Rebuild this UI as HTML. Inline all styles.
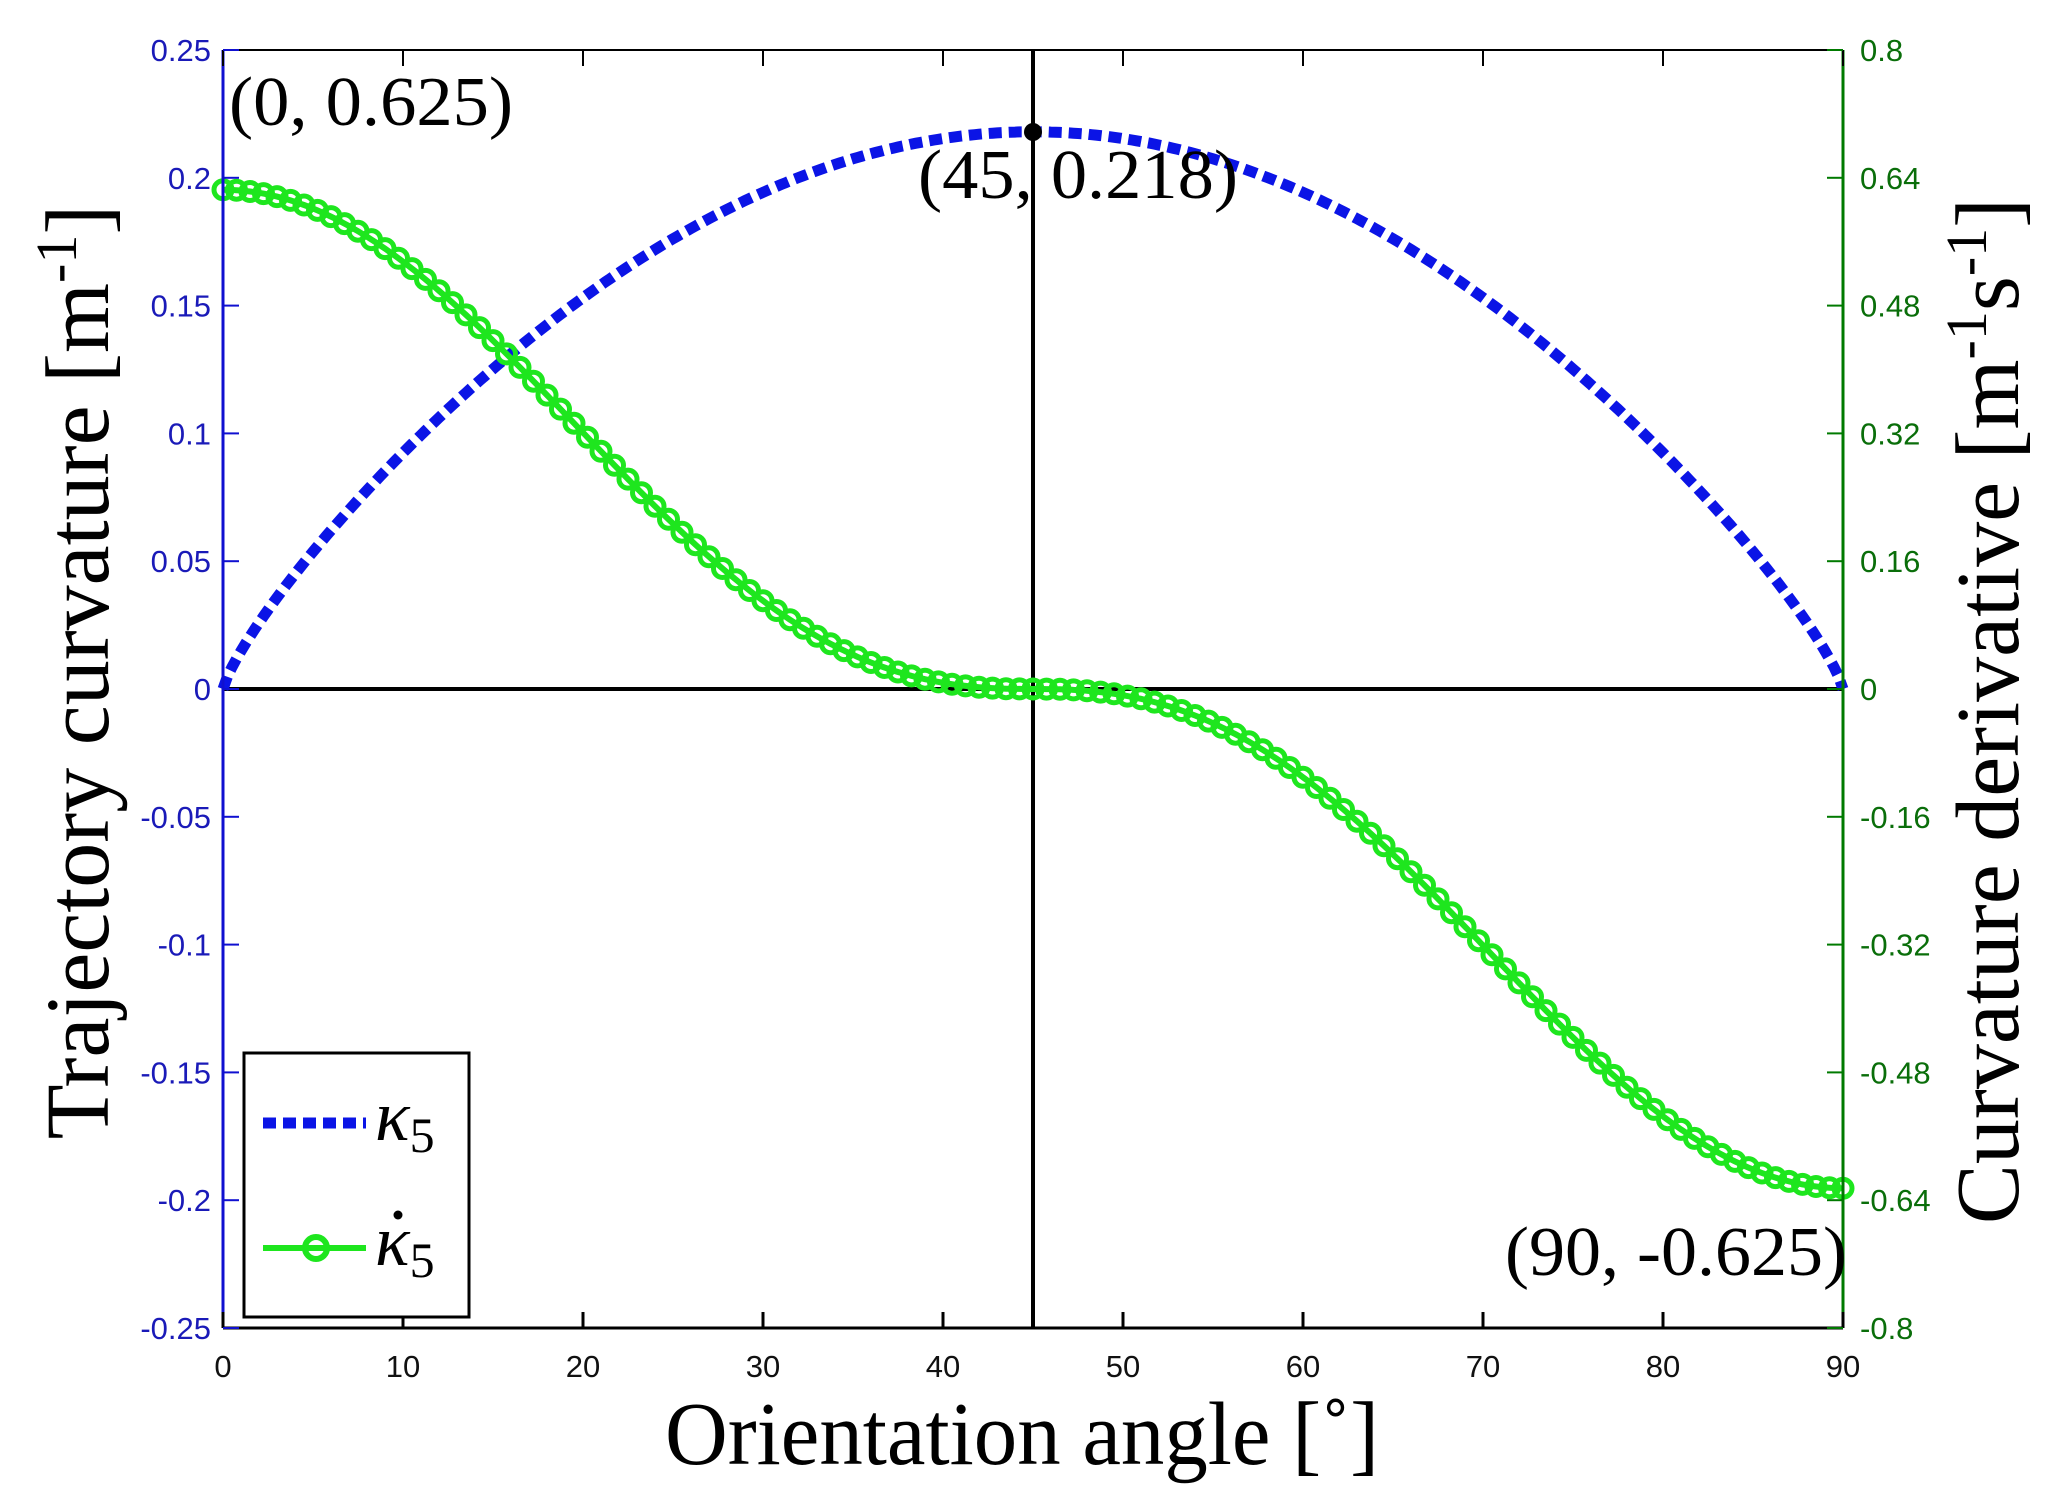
<!DOCTYPE html>
<html><head><meta charset="utf-8"><style>body{margin:0;background:#fff}svg{display:block}</style></head><body>
<svg id="s" width="2054" height="1511" xmlns="http://www.w3.org/2000/svg" font-family="Liberation Sans, sans-serif">
<rect width="2054" height="1511" fill="#fff"/>
<g id="g"></g>
</svg>
<script>
const X0=223,X1=1843,Y0=50,Y1=1328,YZ=689;
const sx=t=>X0+(X1-X0)*t/90;
const syL=v=>YZ-v/0.25*(YZ-Y0);
const syR=v=>YZ-v/0.8*(YZ-Y0);
let h='';
h+=`<line x1="${X0}" y1="${YZ}" x2="${X1}" y2="${YZ}" stroke="#000" stroke-width="4"/>`;
h+=`<line x1="${sx(45)}" y1="${Y0}" x2="${sx(45)}" y2="${Y1}" stroke="#000" stroke-width="4"/>`;
let p='';
for(let i=0;i<=360;i++){const t=i/4;const s=Math.max(0,Math.sin(2*t*Math.PI/180));const v=0.218*Math.pow(s,0.8);p+=(i?'L':'M')+sx(t).toFixed(1)+','+syL(v).toFixed(1);}
h+=`<path d="${p}" fill="none" stroke="#0b14e6" stroke-width="11" stroke-dasharray="13,7"/>`;
let q='',c='';
for(let i=0;i<=360;i++){const t=i/4;const cc=Math.cos(2*t*Math.PI/180);const v=0.625*Math.sign(cc)*Math.pow(Math.abs(cc),2.5);q+=(i?'L':'M')+sx(t).toFixed(1)+','+syR(v).toFixed(1);if(i%3==0)c+=`<circle cx="${sx(t).toFixed(1)}" cy="${syR(v).toFixed(1)}" r="9"/>`;}
h+=`<path d="${q}" fill="none" stroke="#1ee61e" stroke-width="6"/>`;
h+=`<g fill="none" stroke="#1ee61e" stroke-width="5">${c}</g>`;
h+=`<circle cx="${sx(45)}" cy="132" r="9" fill="#000"/>`;
h+=`<line x1="${X0}" y1="${Y0}" x2="${X1}" y2="${Y0}" stroke="#000" stroke-width="2"/>`;
h+=`<line x1="${X0}" y1="${Y1}" x2="${X1}" y2="${Y1}" stroke="#000" stroke-width="3"/>`;
h+=`<line x1="${X0}" y1="${Y0}" x2="${X0}" y2="${Y1}" stroke="#1010d0" stroke-width="3"/>`;
h+=`<line x1="${X1}" y1="${Y0}" x2="${X1}" y2="${Y1}" stroke="#007a00" stroke-width="3"/>`;
for(let k=0;k<=9;k++){const x=sx(k*10);
 h+=`<line x1="${x}" y1="${Y1}" x2="${x}" y2="${Y1-16}" stroke="#000" stroke-width="3"/><line x1="${x}" y1="${Y0}" x2="${x}" y2="${Y0+16}" stroke="#000" stroke-width="2"/>`;
 h+=`<text x="${x}" y="1377" font-size="31" text-anchor="middle" fill="#111">${k*10}</text>`;}
const L=['0.25','0.2','0.15','0.1','0.05','0','-0.05','-0.1','-0.15','-0.2','-0.25'];
const R=['0.8','0.64','0.48','0.32','0.16','0','-0.16','-0.32','-0.48','-0.64','-0.8'];
for(let k=0;k<=10;k++){const y=Y0+k*(Y1-Y0)/10;
 h+=`<line x1="${X0}" y1="${y}" x2="${X0+16}" y2="${y}" stroke="#1010d0" stroke-width="2"/><line x1="${X1}" y1="${y}" x2="${X1-16}" y2="${y}" stroke="#007a00" stroke-width="2"/>`;
 h+=`<text x="211" y="${y+11}" font-size="31" text-anchor="end" fill="#1a1ab8">${L[k]}</text>`;
 h+=`<text x="1860" y="${y+11}" font-size="31" fill="#0a6e0a">${R[k]}</text>`;}
const sf='font-family="Liberation Serif, serif"';
h+=`<text x="229" y="125" font-size="70" ${sf} textLength="284" lengthAdjust="spacingAndGlyphs">(0, 0.625)</text>`;
h+=`<text x="918" y="198" font-size="70" ${sf} textLength="320" lengthAdjust="spacingAndGlyphs">(45, 0.218)</text>`;
h+=`<text x="1505" y="1275" font-size="70" ${sf} textLength="342" lengthAdjust="spacingAndGlyphs">(90, -0.625)</text>`;
h+=`<text x="665" y="1464" font-size="90" ${sf} textLength="714" lengthAdjust="spacingAndGlyphs">Orientation angle [˚]</text>`;
h+=`<text transform="translate(108,672) rotate(-90)" font-size="90" text-anchor="middle" ${sf}>Trajectory curvature [m<tspan dy="-32" font-size="58">-1</tspan><tspan dy="32">]</tspan></text>`;
h+=`<text transform="translate(2018,711) rotate(-90)" font-size="90" text-anchor="middle" ${sf}>Curvature derivative [m<tspan dy="-32" font-size="58">-1</tspan><tspan dy="32">s</tspan><tspan dy="-32" font-size="58">-1</tspan><tspan dy="32">]</tspan></text>`;
h+=`<rect x="244" y="1053" width="225" height="264" fill="#fff" stroke="#000" stroke-width="3"/>`;
h+=`<line x1="263" y1="1123" x2="366" y2="1123" stroke="#0b14e6" stroke-width="11" stroke-dasharray="13,7"/>`;
h+=`<text x="375" y="1140" font-size="72" font-style="italic" ${sf}>κ<tspan font-size="50" font-style="normal" dy="12">5</tspan></text>`;
h+=`<line x1="263" y1="1248" x2="366" y2="1248" stroke="#1ee61e" stroke-width="6"/><circle cx="316" cy="1248" r="11" fill="none" stroke="#1ee61e" stroke-width="6"/>`;
h+=`<text x="375" y="1265" font-size="72" font-style="italic" ${sf}>κ<tspan font-size="50" font-style="normal" dy="12">5</tspan></text>`;
h+=`<circle cx="398" cy="1215" r="4.5" fill="#000"/>`;
document.getElementById('g').innerHTML=h;
</script>
</body></html>
